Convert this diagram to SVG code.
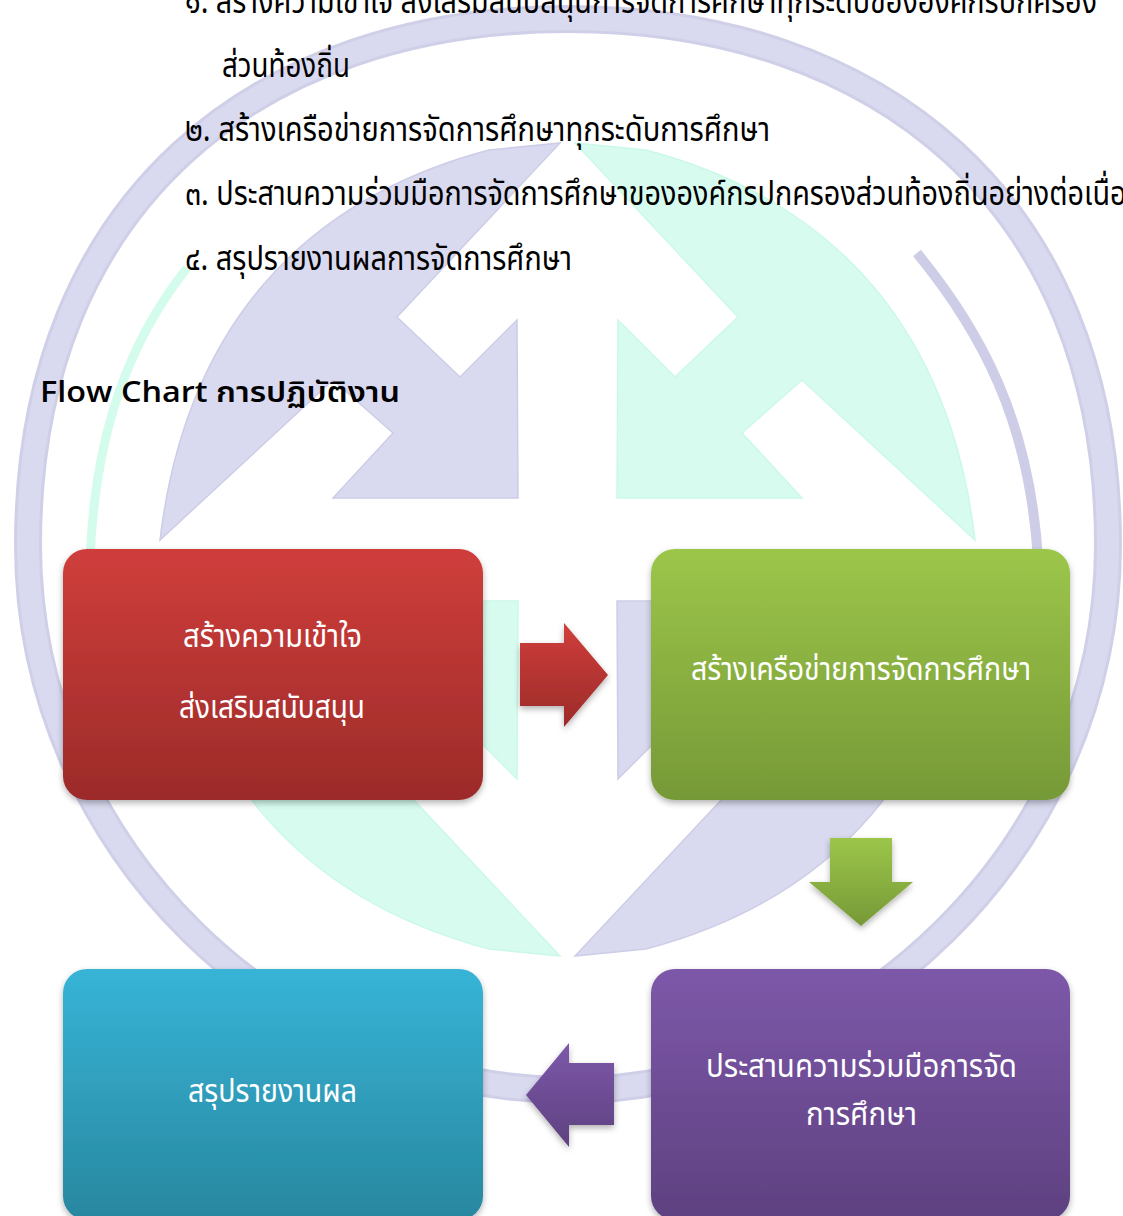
<svg xmlns="http://www.w3.org/2000/svg" xmlns:xlink="http://www.w3.org/1999/xlink" width="1123" height="1216" viewBox="0 0 1123 1216">
<style>
.doc{font-family:"Noto Sans Thai","Noto Sans Thai UI",Loma,Garuda,"Noto Sans","DejaVu Sans",sans-serif;font-size:34px;fill:#000}
.title{font-family:"Open Sans","Noto Sans Thai",Loma,"Noto Sans",sans-serif;font-size:29px;font-weight:600;fill:#000}
.lbl{font-family:"Noto Sans Thai","Noto Sans Thai UI",Loma,Garuda,"Noto Sans","DejaVu Sans",sans-serif;font-size:32px;fill:#fff;text-anchor:middle}
.lav{fill:#d9d9ef;stroke:#cdcde7;stroke-width:1.5}
.mint{fill:#d7fcef;stroke:#cbf9e6;stroke-width:1.5}
</style>
<defs>
<linearGradient id="gRed" x1="0" y1="0" x2="0" y2="1"><stop offset="0" stop-color="#cf3e3b"/><stop offset="1" stop-color="#9c2b29"/></linearGradient>
<linearGradient id="gGreen" x1="0" y1="0" x2="0" y2="1"><stop offset="0" stop-color="#9cc64a"/><stop offset="1" stop-color="#769937"/></linearGradient>
<linearGradient id="gCyan" x1="0" y1="0" x2="0" y2="1"><stop offset="0" stop-color="#37b4d7"/><stop offset="1" stop-color="#28879f"/></linearGradient>
<linearGradient id="gPurple" x1="0" y1="0" x2="0" y2="1"><stop offset="0" stop-color="#7d58a9"/><stop offset="1" stop-color="#5e4180"/></linearGradient>
<filter id="sh" x="-10%" y="-10%" width="120%" height="125%"><feDropShadow dx="0" dy="3" stdDeviation="3" flood-color="#000" flood-opacity="0.3"/></filter>
<path id="arm" d="M489 150 L560 143 L397 317 L460 377 L517 320 L518 498 L333 498 L393 433 L333 380 L160 540 C185 330 300 200 489 150 Z"/>
</defs>
<rect width="1123" height="1216" fill="#fff"/>
<g id="watermark">
<path d="M28 545 C28 200 260 19 568 19 C876 19 1108 200 1108 545 C1108 850 850 1090 568 1090 C286 1090 28 850 28 545 Z" fill="none" stroke="#cfcfe8" stroke-width="28"/>
<path d="M28 545 C28 200 260 19 568 19 C876 19 1108 200 1108 545 C1108 850 850 1090 568 1090 C286 1090 28 850 28 545 Z" fill="none" stroke="#d9d9ef" stroke-width="22"/>
<path d="M187 268 C130 340 95 430 90 560" fill="none" stroke="#d4fcec" stroke-width="9"/>
<path d="M917 253 C980 330 1030 420 1038 560" fill="none" stroke="#cdcde7" stroke-width="10"/>
<use xlink:href="#arm" class="lav"/>
<use xlink:href="#arm" class="mint" transform="translate(1135,0) scale(-1,1)"/>
<use xlink:href="#arm" class="mint" transform="translate(0,1099) scale(1,-1)"/>
<use xlink:href="#arm" class="lav" transform="translate(1135,1099) scale(-1,-1)"/>
</g>
<g id="intro">
<text class="doc" x="185" y="13" textLength="912" lengthAdjust="spacingAndGlyphs">๑. สร้างความเข้าใจ ส่งเสริมสนับสนุนการจัดการศึกษาทุกระดับขององค์กรปกครอง</text>
<text class="doc" x="222" y="77" textLength="128" lengthAdjust="spacingAndGlyphs">ส่วนท้องถิ่น</text>
<text class="doc" x="185" y="141" textLength="585" lengthAdjust="spacingAndGlyphs">๒. สร้างเครือข่ายการจัดการศึกษาทุกระดับการศึกษา</text>
<text class="doc" x="185" y="205" textLength="957" lengthAdjust="spacingAndGlyphs">๓. ประสานความร่วมมือการจัดการศึกษาขององค์กรปกครองส่วนท้องถิ่นอย่างต่อเนื่อง</text>
<text class="doc" x="185" y="270" textLength="387" lengthAdjust="spacingAndGlyphs">๔. สรุปรายงานผลการจัดการศึกษา</text>
<text class="title" x="40" y="402" textLength="360" lengthAdjust="spacingAndGlyphs">Flow Chart การปฏิบัติงาน</text>
</g>
<g id="connectors" filter="url(#sh)">
<polygon points="520,643 564,643 564,623 608,675 564,727 564,706 520,706" fill="url(#gRed)"/>
<polygon points="830,838 892,838 892,882 913,882 861,926 809,882 830,882" fill="url(#gGreen)"/>
<polygon points="614,1063 569,1063 569,1043 526,1095 569,1147 569,1125 614,1125" fill="url(#gPurple)"/>
</g>
<g id="node-understand">
<rect x="63" y="549" width="420" height="251" rx="24" fill="url(#gRed)" filter="url(#sh)"/>
<text class="lbl" x="272.5" y="647" textLength="179" lengthAdjust="spacingAndGlyphs">สร้างความเข้าใจ</text>
<text class="lbl" x="272" y="718" textLength="186" lengthAdjust="spacingAndGlyphs">ส่งเสริมสนับสนุน</text>
</g>
<g id="node-network">
<rect x="651" y="549" width="419" height="251" rx="24" fill="url(#gGreen)" filter="url(#sh)"/>
<text class="lbl" x="861" y="680" textLength="340" lengthAdjust="spacingAndGlyphs">สร้างเครือข่ายการจัดการศึกษา</text>
</g>
<g id="node-coordinate">
<rect x="651" y="969" width="419" height="251" rx="24" fill="url(#gPurple)" filter="url(#sh)"/>
<text class="lbl" x="861.5" y="1077" textLength="311" lengthAdjust="spacingAndGlyphs">ประสานความร่วมมือการจัด</text>
<text class="lbl" x="861.5" y="1125" textLength="111" lengthAdjust="spacingAndGlyphs">การศึกษา</text>
</g>
<g id="node-report">
<rect x="63" y="969" width="420" height="251" rx="24" fill="url(#gCyan)" filter="url(#sh)"/>
<text class="lbl" x="272.5" y="1102" textLength="169" lengthAdjust="spacingAndGlyphs">สรุปรายงานผล</text>
</g>
</svg>
